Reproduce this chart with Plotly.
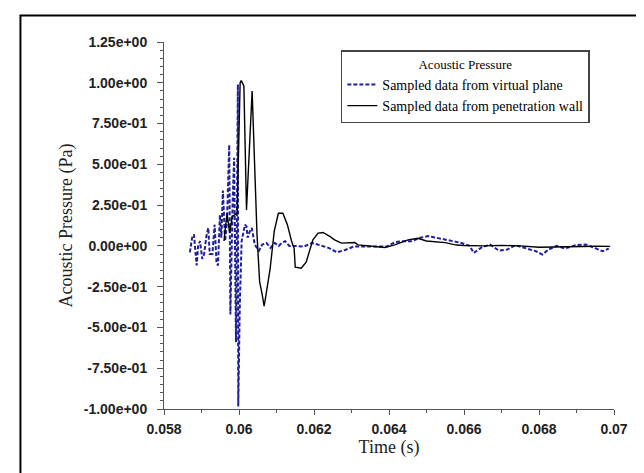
import plotly.graph_objects as go

# ---- data ----
t_virtual = [0.05869, 0.05875, 0.05880, 0.05887, 0.05891, 0.05896, 0.05902, 0.05907, 0.05913, 0.05918,
             0.05922, 0.05929, 0.05935, 0.05940, 0.05944, 0.05949, 0.05953, 0.05957, 0.05963, 0.05968,
             0.05974, 0.05977, 0.05983, 0.05987, 0.05992, 0.05997, 0.05998, 0.06002, 0.06007, 0.06012,
             0.06016, 0.06020, 0.06023, 0.06029, 0.06034, 0.06042, 0.06053, 0.06062, 0.06073, 0.06084,
             0.06095, 0.06106, 0.06115, 0.06123, 0.06134, 0.06151, 0.06173, 0.06195, 0.06217, 0.06239,
             0.06261, 0.06283, 0.06306, 0.06328, 0.06350, 0.06372, 0.06394, 0.06416, 0.06438, 0.06460,
             0.06483, 0.06505, 0.06527, 0.06550, 0.06571, 0.06593, 0.06615, 0.06626, 0.06648, 0.06670,
             0.06693, 0.06715, 0.06737, 0.06770, 0.06792, 0.06809, 0.06825, 0.06847, 0.06869, 0.06897,
             0.06925, 0.06948, 0.06970, 0.06986]
p_virtual = [-0.04, 0.05, 0.07, -0.12, 0.0, 0.03, -0.08, -0.05, 0.06, 0.11,
             -0.05, -0.05, 0.13, -0.10, -0.12, 0.19, 0.05, 0.34, 0.03, 0.15,
             0.62, -0.42, 0.27, 0.54, -0.59, 0.99, -0.985, -0.38, 0.03, 0.10,
             0.13, 0.12, 0.05, 0.09, 0.11, 0.008, -0.03, 0.008, 0.018, -0.012,
             0.018, 0.0, 0.02, 0.029, 0.0, 0.0, -0.004, 0.018, 0.004, -0.012,
             -0.039, -0.025, -0.004, -0.004, -0.004, -0.008, -0.004, 0.023, 0.029, 0.029,
             0.05, 0.06, 0.05, 0.04, 0.029, 0.018, 0.0, -0.043, -0.008, 0.008,
             -0.029, -0.023, 0.004, -0.016, -0.033, -0.053, -0.023, 0.0, -0.016, 0.004,
             0.008, -0.012, -0.033, -0.016]

t_wall = [0.05960, 0.05968, 0.05975, 0.05982, 0.05995, 0.06003, 0.06006, 0.06013, 0.06020, 0.06035,
          0.06048, 0.06055, 0.06062, 0.06067, 0.06072, 0.06083, 0.06094, 0.06105, 0.06117, 0.06129,
          0.06140, 0.06147, 0.06150, 0.06166, 0.06179, 0.06189, 0.06197, 0.06211, 0.06224, 0.06242,
          0.06255, 0.06273, 0.06309, 0.06317, 0.06352, 0.06389, 0.06415, 0.06451, 0.06477, 0.06500,
          0.06550, 0.06580, 0.06600, 0.06650, 0.06700, 0.06750, 0.06800, 0.06850, 0.06900, 0.06950,
          0.06990]
p_wall = [0.03, 0.20, 0.08, 0.18, 0.20, 1.00, 1.013, 0.98, 0.22, 0.95,
          0.07, -0.22, -0.30, -0.37, -0.30, -0.14, 0.09, 0.20, 0.20, 0.13,
          0.03, -0.015, -0.13, -0.137, -0.10, -0.014, 0.037, 0.078, 0.082, 0.058,
          0.037, 0.017, 0.021, 0.006, -0.004, -0.010, 0.006, 0.037, 0.047, 0.030,
          0.020, 0.005, 0.002, 0.0, 0.003, 0.0, -0.008, -0.006, 0.0, -0.002,
          -0.003]

y_tick_vals = [-1.0, -0.75, -0.5, -0.25, 0.0, 0.25, 0.5, 0.75, 1.0, 1.25]
y_tick_text = ["-1.00e+00", "-7.50e-01", "-5.00e-01", "-2.50e-01", "0.00e+00",
               "2.50e-01", "5.00e-01", "7.50e-01", "1.00e+00", "1.25e+00"]
x_tick_vals = [0.058, 0.060, 0.062, 0.064, 0.066, 0.068, 0.070]
x_tick_text = ["0.058", "0.06", "0.062", "0.064", "0.066", "0.068", "0.07"]

BLUE = "#1f1f9a"
SERIF = "Liberation Serif, Times New Roman, serif"
SANS = "Liberation Sans, Arial, sans-serif"

fig = go.Figure()
fig.add_trace(go.Scatter(x=t_virtual, y=p_virtual, mode="lines",
                         name="Sampled data from virtual plane",
                         line=dict(color=BLUE, width=2, dash="4px,2px")))
fig.add_trace(go.Scatter(x=t_wall, y=p_wall, mode="lines",
                         name="Sampled data from penetration wall",
                         line=dict(color="black", width=1.4)))

fig.update_layout(
    width=644, height=473,
    margin=dict(l=156, r=38, t=34, b=72),
    paper_bgcolor="white", plot_bgcolor="white",
    showlegend=True,
    legend=dict(
        x=0.393, y=0.977, xanchor="left", yanchor="top",
        bgcolor="white", bordercolor="#444", borderwidth=1.5,
        font=dict(family=SERIF, size=14, color="black"),
        title=dict(text="Acoustic Pressure", side="top center",
                   font=dict(family=SERIF, size=13, color="black")),
        tracegroupgap=0,
    ),
    shapes=[dict(type="rect", xref="paper", yref="paper",
                 x0=-0.319, x1=1.0756, y0=-0.25, y1=1.072,
                 line=dict(color="black", width=2), fillcolor="rgba(0,0,0,0)",
                 layer="below")],
)

fig.update_xaxes(
    range=[0.058, 0.070], showgrid=False, zeroline=False,
    showline=True, linecolor="#555", linewidth=1,
    tickmode="array", tickvals=x_tick_vals, ticktext=x_tick_text,
    ticks="outside", ticklen=5, tickcolor="#555", ticklabelstandoff=2,
    tickfont=dict(family=SANS, size=14, color="#222", weight="bold"),
    minor=dict(dtick=0.001, ticks="outside", ticklen=3, tickcolor="#555"),
    title=dict(text="Time (s)", font=dict(family=SERIF, size=18, color="#222"), standoff=4),
)
fig.update_yaxes(
    range=[-1.0, 1.25], showgrid=False, zeroline=False,
    showline=True, linecolor="#555", linewidth=1,
    tickmode="array", tickvals=y_tick_vals, ticktext=y_tick_text,
    ticks="outside", ticklen=6, tickcolor="#555", ticklabelstandoff=7,
    tickfont=dict(family=SANS, size=14, color="#222", weight="bold"),
    minor=dict(tick0=0, dtick=0.05, ticks="outside", ticklen=3, tickcolor="#555"),
    title=dict(text="Acoustic Pressure (Pa)", font=dict(family=SERIF, size=18, color="#222"), standoff=6),
)

fig.write_html("out.html")
